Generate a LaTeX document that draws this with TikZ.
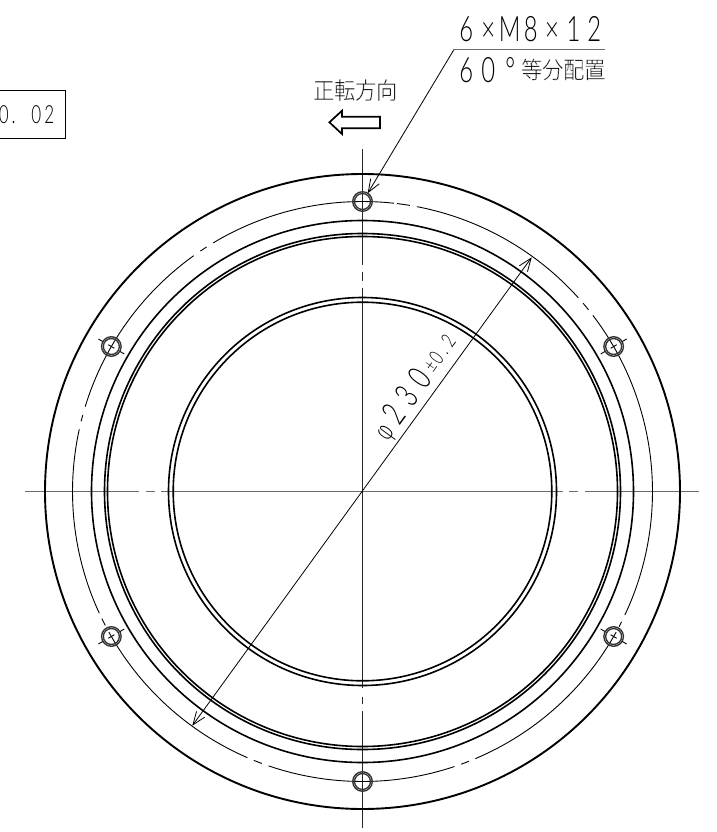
\documentclass[tikz,border=0pt]{standalone}
\usepackage{fontspec}
\usetikzlibrary{arrows.meta,calc}
\IfFontExistsTF{Lato Light}{\newfontfamily\cadfont[FakeStretch=0.68]{Lato Light}}{\newfontfamily\cadfont[FakeStretch=0.68]{Liberation Sans}}
\IfFontExistsTF{Noto Sans CJK JP Light}{\newfontfamily\cjkfont[FakeStretch=0.9]{Noto Sans CJK JP Light}}{\newfontfamily\cjkfont[FakeStretch=0.9]{Noto Sans CJK JP}}
\IfFontExistsTF{DejaVu Sans ExtraLight}{\newfontfamily\phifont[FakeStretch=0.8]{DejaVu Sans ExtraLight}}{\newfontfamily\phifont[FakeStretch=0.8]{DejaVu Sans}}
\newcommand{\cc}[2]{\makebox[#1pt][c]{#2}}
\newcommand{\thinkanji}[1]{\special{pdf:code q 2 Tr 1 1 1 RG 0.12 w}#1\special{pdf:code Q}}
\definecolor{cgray}{gray}{0.42}
\tikzset{
  heavy/.style={line width=1.9pt,black},
  medium/.style={line width=1.6pt,black},
  thinline/.style={line width=0.9pt,black},
  vcenter/.style={line width=1pt,black!85},
  hcenter/.style={line width=1.6pt,cgray},
  hole/.style={line width=1.35pt,black!80},
  txt/.style={inner sep=0pt,anchor=base west,black},
  dimarrow/.style={line width=0.8pt,{Straight Barb[length=13pt,width=10pt]}-{Straight Barb[length=13pt,width=10pt]}},
}
\begin{document}
\begin{tikzpicture}[x=1pt,y=-1pt]
\path[use as bounding box] (0,0) rectangle (716,832);
\fill[white] (0,0) rectangle (716,832);
% centre lines
\coordinate (ht1) at (25,491.5);\coordinate (ht2) at (139,491.5);
\coordinate (ht3) at (146,491.5);\coordinate (ht4) at (155,491.5);
\coordinate (ht5) at (161,491.5);\coordinate (ht6) at (563,491.5);
\coordinate (ht7) at (569,491.5);\coordinate (ht8) at (578,491.5);
\coordinate (ht9) at (585,491.5);\coordinate (ht10) at (699,491.5);
\draw[hcenter] (ht1)--(ht2) (ht3)--(ht4) (ht5)--(ht6) (ht7)--(ht8) (ht9)--(ht10);
\coordinate (vt1) at (362.5,149);\coordinate (vt2) at (362.5,265);
\coordinate (vt3) at (362.5,272);\coordinate (vt4) at (362.5,281);
\coordinate (vt5) at (362.5,288);\coordinate (vt6) at (362.5,688);
\coordinate (vt7) at (362.5,697);\coordinate (vt8) at (362.5,704);
\coordinate (vt9) at (362.5,711);\coordinate (vt10) at (362.5,828);
\draw[vcenter] (vt1)--(vt2) (vt3)--(vt4) (vt5)--(vt6) (vt7)--(vt8) (vt9)--(vt10);
\begin{scope}[shift={(362.5,491.5)},y=1pt]
\draw[heavy] (0,0) circle[radius=317.5];
\draw[medium] (0,0) circle[radius=271];
\draw[medium] (0,0) circle[radius=258];
\draw[medium] (0,0) circle[radius=255];
\draw[medium] (0,0) circle[radius=194];
\draw[medium] (0,0) circle[radius=189.3];
% bolt circle
\foreach \a/\b in {79.2/41.9, 83.2/80.6, 121/83.8, 124/122.5, 163/125.6, 166/164.7, 204.8/167.6, 207.5/206,
  246.6/209, 249.7/248, 288.5/251.1, 291.5/289.9, 331/292.9, 333.3/332.2, 397.4/334.8, 40.5/38.8}
  \draw[thinline] (\b:290) arc[start angle=\b,end angle=\a,radius=290];
% holes
\foreach \a in {30,90,150,210,270,330}{
  \draw[hole] (\a:290) circle[radius=9.8];
  \draw[hole] (\a:290) circle[radius=8];
}
\foreach \a in {30,150,210,330}{
  \draw[thinline] ($(\a:290)+(\a:10)$) -- ($(\a:290)+(\a:15)$);
  \draw[thinline] ($(\a:290)-(\a:10)$) -- ($(\a:290)-(\a:15)$);
  \draw[thinline] ($(\a:290)+(\a:3.5)$) -- ($(\a:290)-(\a:3.5)$);
}
\end{scope}
% diameter
\coordinate (d1) at (531.7,257.3);\coordinate (d2) at (192.3,725.7);
\draw[dimarrow] (d2)--(d1);
\node[txt,rotate=54] (dimtext) at (386.5,444.7) {\cadfont\fontsize{34}{34}\selectfont
 \cc{18}{\phifont\fontsize{26}{26}\selectfont φ}\cc{22}{2}\cc{22}{3}\cc{22}{0}\fontsize{21}{21}\selectfont\raisebox{3.5pt}{\cc{10}{±}\cc{11}{0}\cc{9}{.}\cc{12}{2}}};
% leader
\coordinate (ll1) at (604.5,49.5);\coordinate (ll2) at (454,49.5);\coordinate (ltip) at (367.7,193.3);
\draw[line width=1.6pt,cgray] (ll1)--(ll2);
\draw[line width=0.8pt,-{Straight Barb[length=13pt,width=10pt]}] (ll2)--(ltip);
\node[txt] (t1) at (455,42) {\cadfont\fontsize{35}{35}\selectfont\cc{22}{6}\cc{22}{×}\cc{21}{M}\cc{21}{8}\cc{21.5}{×}\cc{21.5}{1}\cc{20}{2}};
\node[txt] (t2) at (455,83) {\cadfont\fontsize{35}{35}\selectfont\cc{22}{6}\cc{22}{0}\cc{22}{°}\raisebox{4.6pt}{\cjkfont\fontsize{23.5}{24}\selectfont\thinkanji{\cc{21}{等}\cc{21}{分}\cc{21}{配}\cc{21}{置}}}};
\node[txt] (t3) at (313,99) {\cjkfont\fontsize{23.5}{24}\selectfont\thinkanji{\cc{21}{正}\cc{21}{転}\cc{21}{方}\cc{21}{向}}};
% hollow arrow
\coordinate (a1) at (329.4,122.3);\coordinate (a2) at (342,110.7);\coordinate (a3) at (342,116.7);
\coordinate (a4) at (380,116.7);\coordinate (a5) at (380,128.3);\coordinate (a6) at (342,128.3);\coordinate (a7) at (342,134);
\draw[line width=1.7pt,line join=miter] (a1)--(a2)--(a3)--(a4)--(a5)--(a6)--(a7)--cycle;
% tolerance box
\coordinate (b1) at (-5,90.7);\coordinate (b2) at (65.6,90.7);\coordinate (b3) at (65.6,138);\coordinate (b4) at (-5,138);
\draw[line width=0.9pt] (b1)--(b2)--(b3)--(b4);
\node[txt] (t4) at (-2,124) {\cadfont\fontsize{25}{25}\selectfont\cc{11}{0}\cc{9}{.}\cc{12}{\,}\cc{12}{0}\cc{14}{2}};
\end{tikzpicture}
\end{document}
